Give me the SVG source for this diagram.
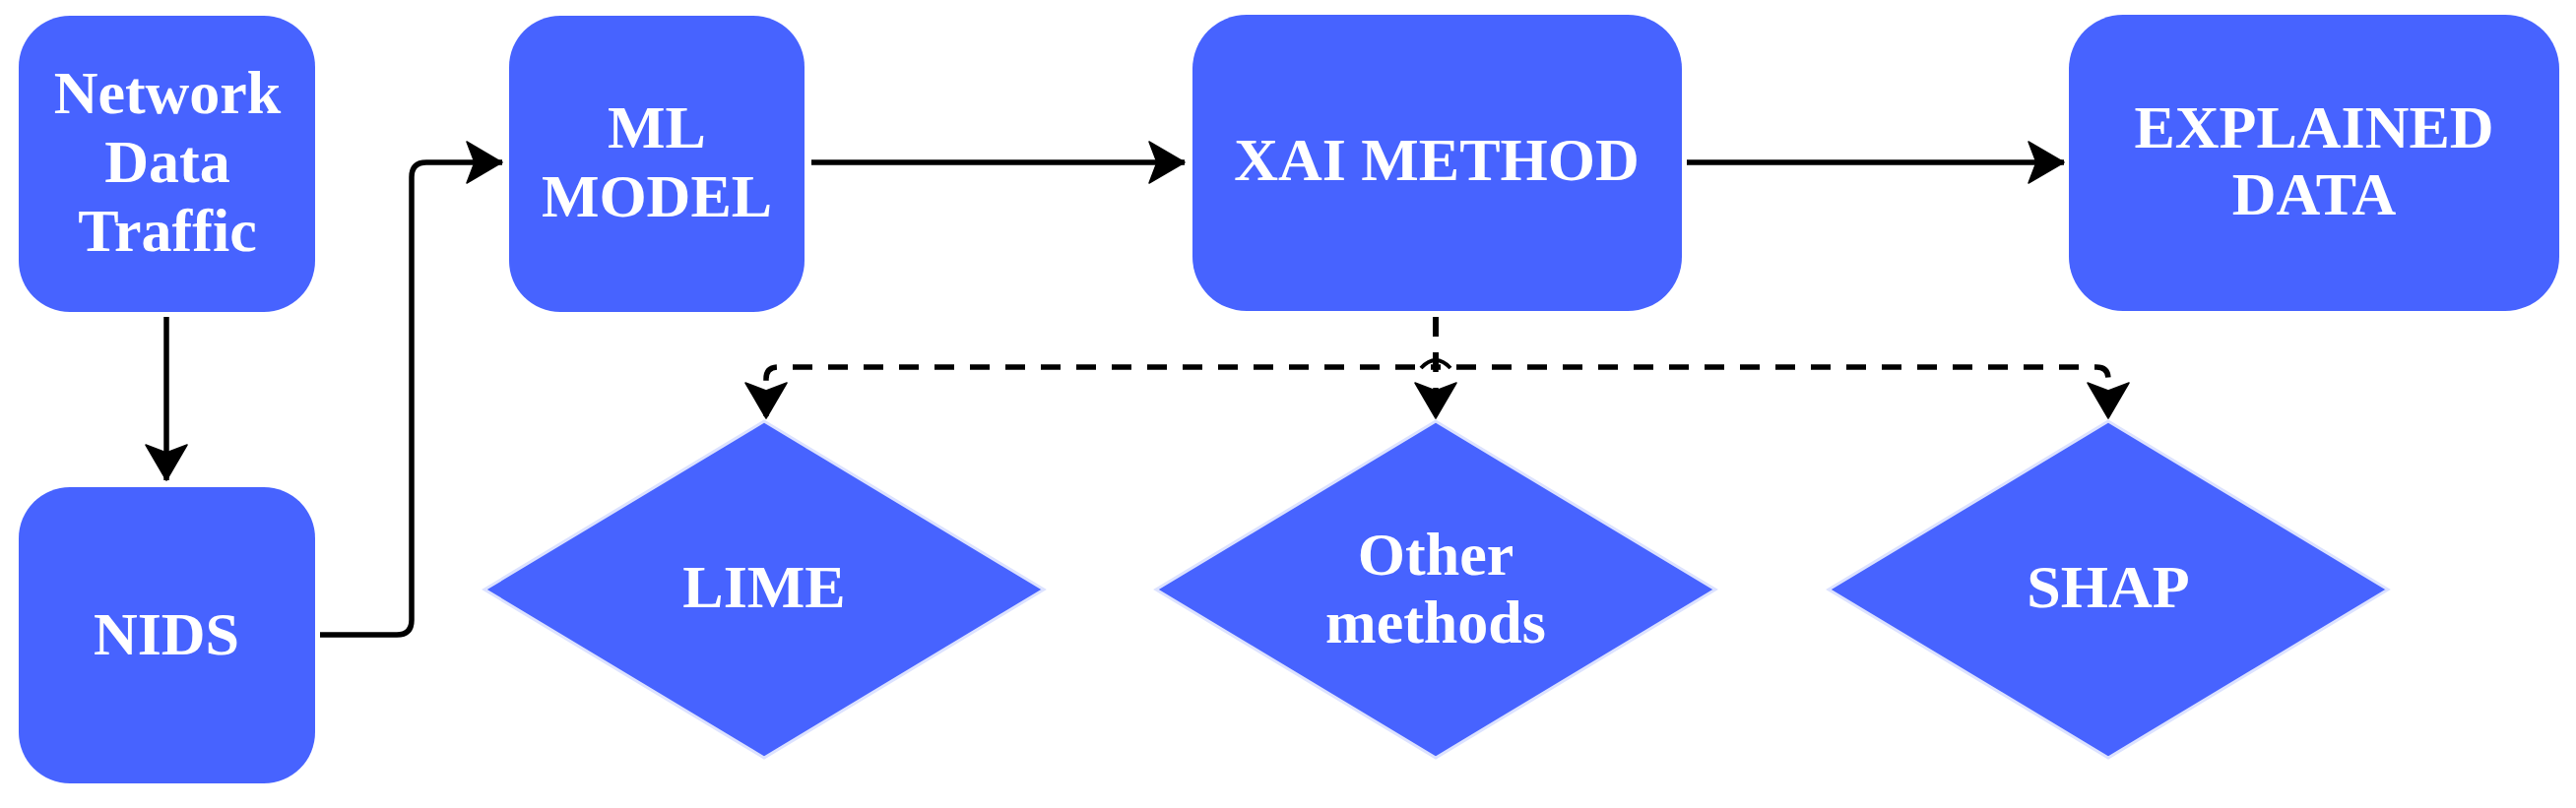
<svg xmlns="http://www.w3.org/2000/svg" width="2616" height="821" viewBox="0 0 2616 821">
<style>
.box{fill:#4763FF;}
.dia{fill:#4763FF;stroke:#DCE2FF;stroke-width:3;}
.lbl{font-family:"Liberation Serif","Times New Roman",serif;font-weight:bold;font-size:62px;fill:#FFFFFF;text-anchor:middle;}
.edge{fill:none;stroke:#000000;stroke-width:5.5;}
.dash{fill:none;stroke:#000000;stroke-width:5.5;stroke-dasharray:20 16;}
</style>
<defs>
<marker id="arr" markerUnits="userSpaceOnUse" markerWidth="40" markerHeight="46" viewBox="-38 -23 40 46" refX="0" refY="0" orient="auto">
<path d="M0,0 L-36,-21 L-28,0 L-36,21 Z" fill="#000000" stroke="#000000" stroke-width="1.5" stroke-linejoin="round"/>
</marker>
</defs>
<rect width="2616" height="821" fill="#FFFFFF"/>
<g id="connectors">
<path class="edge" d="M169,322 V488" marker-end="url(#arr)"/>
<path class="edge" d="M325,645 H403 Q418,645 418,630 V180 Q418,165 433,165 H510" marker-end="url(#arr)"/>
<path class="edge" d="M824,165 H1203" marker-end="url(#arr)"/>
<path class="edge" d="M1713,165 H2096" marker-end="url(#arr)"/>
<path class="dash" d="M1458,322 V373 H790 Q778,373 778,385 V425" marker-end="url(#arr)"/>
<path class="dash" d="M1458,322 V425" marker-end="url(#arr)"/>
<path class="dash" d="M1458,322 V373 H2129 Q2141,373 2141,385 V425" marker-end="url(#arr)"/>
<path d="M1443,374 Q1458,358 1473,374" fill="none" stroke="#000000" stroke-width="4"/>
</g>
<g id="node-network">
<rect class="box" x="19" y="16" width="301" height="301" rx="52"/>
<text class="lbl" x="170" y="115">Network</text>
<text class="lbl" x="170" y="185">Data</text>
<text class="lbl" x="170" y="255">Traffic</text>
</g>
<g id="node-nids">
<rect class="box" x="19" y="495" width="301" height="301" rx="52"/>
<text class="lbl" x="169" y="665">NIDS</text>
</g>
<g id="node-ml">
<rect class="box" x="517" y="16" width="300" height="301" rx="52"/>
<text class="lbl" x="667" y="150">ML</text>
<text class="lbl" x="667" y="220">MODEL</text>
</g>
<g id="node-xai">
<rect class="box" x="1211" y="15" width="497" height="301" rx="55"/>
<text class="lbl" x="1459" y="183">XAI METHOD</text>
</g>
<g id="node-explained">
<rect class="box" x="2101" y="15" width="498" height="301" rx="55"/>
<text class="lbl" x="2350" y="150">EXPLAINED</text>
<text class="lbl" x="2350" y="218">DATA</text>
</g>
<g id="node-lime">
<polygon class="dia" points="776,428 1060,599 776,770 492,599"/>
<text class="lbl" x="776" y="617">LIME</text>
</g>
<g id="node-other">
<polygon class="dia" points="1458,428 1742,599 1458,770 1174,599"/>
<text class="lbl" x="1458" y="584">Other</text>
<text class="lbl" x="1458" y="653">methods</text>
</g>
<g id="node-shap">
<polygon class="dia" points="2141,428 2425,599 2141,770 1857,599"/>
<text class="lbl" x="2141" y="617">SHAP</text>
</g>
</svg>
